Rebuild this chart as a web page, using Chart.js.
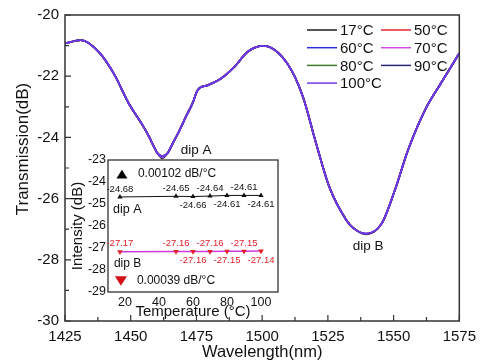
<!DOCTYPE html>
<html>
<head>
<meta charset="utf-8">
<script src="https://cdn.jsdelivr.net/npm/chart.js@4.4.0/dist/chart.umd.min.js"></script>
<style>
  html, body { margin: 0; padding: 0; background: #fff; }
  #wrap { position: relative; width: 483px; height: 362px; }
  #main { position: absolute; left: 0; top: 0; }
  #inset { position: absolute; left: 60px; top: 150px; }
</style>
</head>
<body>
<div id="wrap">
  <canvas id="main" width="483" height="362"></canvas>
  <canvas id="inset" width="230" height="178"></canvas>
</div>
<script>
// main spectrum (17 °C trace; other traces differ at the dips)
const wavelength = [1425, 1431, 1438, 1444, 1449, 1454.5, 1457, 1458.8, 1460.2, 1462, 1464, 1466, 1468, 1471, 1473.5, 1475.5, 1479.5, 1484.5, 1489.5, 1494.5, 1500.5, 1509.5, 1515.5, 1520.5, 1525.5, 1532, 1534.5, 1539.5, 1545.5, 1550.5, 1555.5, 1562, 1568, 1575];
const transmission = [-20.93, -20.82, -21.22, -21.98, -22.85, -23.6, -23.98, -24.3, -24.52, -24.68, -24.52, -24.19, -23.87, -23.32, -22.89, -22.45, -22.29, -22.07, -21.69, -21.2, -21.01, -21.58, -22.67, -24.19, -25.61, -26.7, -26.95, -27.17, -26.81, -25.72, -24.41, -23.1, -22.23, -21.25];
const dipAWavelength = 1462;
const dipBWavelength = 1539.5;

const tempLabels = ['17\u00B0C', '50\u00B0C', '60\u00B0C', '70\u00B0C', '80\u00B0C', '90\u00B0C', '100\u00B0C'];
const traceColors = ['#1c1c1c', '#e3262c', '#2b2fde', '#d04ae6', '#3e7c2c', '#26296f', '#7436ee'];

// inset: dip intensity vs temperature
const temperature = [17, 50, 60, 70, 80, 90, 100];
const dipA = [-24.68, -24.65, -24.66, -24.64, -24.61, -24.61, -24.61];
const dipB = [-27.17, -27.16, -27.16, -27.16, -27.15, -27.15, -27.14];
const labelSide = ['above', 'above', 'below', 'above', 'below', 'above', 'below'];

const mainXLabels = [1425, 1450, 1475, 1500, 1525, 1550, 1575];
const mainYLabels = [-30, -28, -26, -24, -22, -20];
const insetXTicks = [20, 40, 60, 80, 100];

const FONT = 'Liberation Sans, Arial, sans-serif';

const iA = wavelength.indexOf(dipAWavelength);
const iB = wavelength.indexOf(dipBWavelength);

// box + inward ticks
const frame = {
  id: 'frame',
  afterDatasetsDraw(chart, args, o) {
    const { ctx, chartArea: a, scales } = chart;
    ctx.save();
    ctx.strokeStyle = '#333';
    ctx.lineWidth = o.width || 1.5;
    ctx.strokeRect(a.left, a.top, a.right - a.left, a.bottom - a.top);
    if (o.ticks) {
      ctx.lineWidth = 1.2;
      ctx.beginPath();
      scales.x.ticks.forEach(t => {
        const px = scales.x.getPixelForValue(t.value);
        const len = t.label !== '' ? 6 : 4;
        ctx.moveTo(px, a.bottom);
        ctx.lineTo(px, a.bottom - len);
      });
      scales.y.ticks.forEach(t => {
        const py = scales.y.getPixelForValue(t.value);
        const len = t.label !== '' ? 6 : 4;
        ctx.moveTo(a.left, py);
        ctx.lineTo(a.left + len, py);
      });
      ctx.stroke();
    }
    ctx.restore();
  }
};

const legendBox = {
  id: 'legendBox',
  afterDraw(chart, args, o) {
    const ctx = chart.ctx;
    ctx.save();
    ctx.font = '15px ' + FONT;
    ctx.textBaseline = 'middle';
    ctx.fillStyle = '#111';
    chart.data.datasets.forEach((ds, i) => {
      const x = o.x + (i % 2) * o.colWidth;
      const y = o.y + Math.floor(i / 2) * o.rowHeight;
      ctx.strokeStyle = ds.borderColor;
      ctx.lineWidth = 1.5;
      ctx.beginPath();
      ctx.moveTo(x, y);
      ctx.lineTo(x + 30, y);
      ctx.stroke();
      ctx.fillText(ds.label, x + 33, y + 1);
    });
    ctx.restore();
  }
};

const notes = {
  id: 'notes',
  afterDraw(chart, args, o) {
    const { ctx, scales } = chart;
    ctx.save();
    ctx.textBaseline = 'middle';
    (o.items || []).forEach(n => {
      const px = scales.x.getPixelForValue(n.x);
      const py = scales.y.getPixelForValue(n.y);
      if (n.marker) {
        const s = n.size, h = s * 0.8;
        ctx.fillStyle = n.color;
        ctx.beginPath();
        if (n.marker === 'up') {
          ctx.moveTo(px, py - h / 2); ctx.lineTo(px + s / 2, py + h / 2); ctx.lineTo(px - s / 2, py + h / 2);
        } else {
          ctx.moveTo(px, py + h / 2); ctx.lineTo(px + s / 2, py - h / 2); ctx.lineTo(px - s / 2, py - h / 2);
        }
        ctx.closePath();
        ctx.fill();
      } else {
        ctx.font = n.size + 'px ' + FONT;
        ctx.fillStyle = n.color || '#111';
        ctx.textAlign = n.align || 'left';
        ctx.fillText(n.text, px, py);
      }
    });
    ctx.restore();
  }
};

const yTitle = {
  id: 'yTitle',
  afterDraw(chart, args, o) {
    const ctx = chart.ctx;
    ctx.save();
    ctx.translate(o.x, o.y);
    ctx.rotate(-Math.PI / 2);
    ctx.font = o.size + 'px ' + FONT;
    ctx.fillStyle = '#111';
    ctx.textAlign = 'center';
    ctx.textBaseline = 'middle';
    ctx.fillText(o.text, 0, 0);
    ctx.restore();
  }
};

const valueLabels = {
  id: 'valueLabels',
  afterDatasetsDraw(chart, args, o) {
    const ctx = chart.ctx;
    ctx.save();
    ctx.font = '9.5px ' + FONT;
    ctx.textAlign = 'center';
    ctx.textBaseline = 'middle';
    chart.data.datasets.forEach((ds, di) => {
      ctx.fillStyle = o.colors[di];
      chart.getDatasetMeta(di).data.forEach((pt, i) => {
        const dy = labelSide[i] === 'above' ? -8 : 9;
        ctx.fillText(ds.data[i].y.toFixed(2), pt.x, pt.y + dy);
      });
    });
    ctx.restore();
  }
};

const mainDatasets = tempLabels.map((label, i) => ({
  label: label,
  data: wavelength.map((w, k) => ({
    x: w,
    y: k === iA ? dipA[i] : (k === iB ? dipB[i] : transmission[k])
  })),
  borderColor: traceColors[i],
  borderWidth: 1.8,
  pointRadius: 0,
  cubicInterpolationMode: 'monotone',
  order: tempLabels.length - 1 - i
}));

new Chart(document.getElementById('main'), {
  type: 'line',
  data: { datasets: mainDatasets },
  options: {
    responsive: false,
    animation: false,
    layout: { padding: { top: 15, right: 18, left: 0, bottom: 0 } },
    plugins: {
      legend: { display: false },
      tooltip: { enabled: false },
      frame: { ticks: true },
      legendBox: { x: 307, y: 30, colWidth: 74, rowHeight: 17.7 },
      notes: { items: [
        { text: 'dip A', x: 1469, y: -24.41, size: 13.5 },
        { text: 'dip B', x: 1534.5, y: -27.55, size: 13.5 }
      ] },
      yTitle: { text: 'Transmission(dB)', x: 23, y: 149, size: 17 }
    },
    scales: {
      x: {
        type: 'linear', min: 1425, max: 1575,
        afterFit: s => { s.height = 41; },
        grid: { display: false, drawTicks: false },
        border: { display: false },
        ticks: {
          stepSize: 12.5, autoSkip: false, maxRotation: 0, padding: 7,
          color: '#111', font: { family: FONT, size: 15 },
          callback: v => mainXLabels.includes(v) ? String(v) : ''
        },
        title: { display: true, text: 'Wavelength(nm)', color: '#111', font: { family: FONT, size: 16.5 }, padding: { top: 0, bottom: 0 } }
      },
      y: {
        min: -30, max: -20,
        afterFit: s => { s.width = 65; },
        grid: { display: false, drawTicks: false },
        border: { display: false },
        ticks: {
          stepSize: 1, autoSkip: false, padding: 6,
          color: '#111', font: { family: FONT, size: 15 },
          callback: v => mainYLabels.includes(v) ? String(v) : ''
        }
      }
    }
  },
  plugins: [frame, legendBox, notes, yTitle]
});

new Chart(document.getElementById('inset'), {
  type: 'line',
  data: {
    datasets: [
      {
        label: 'dip A',
        data: temperature.map((t, i) => ({ x: t, y: dipA[i] })),
        borderColor: '#111', borderWidth: 1,
        pointStyle: 'triangle', pointRadius: 3,
        pointBackgroundColor: '#111', pointBorderColor: '#111', pointBorderWidth: 0
      },
      {
        label: 'dip B',
        data: temperature.map((t, i) => ({ x: t, y: dipB[i] })),
        borderColor: '#cf3ad8', borderWidth: 1.5,
        pointStyle: 'triangle', pointRotation: 180, pointRadius: 3.2,
        pointBackgroundColor: '#e3202a', pointBorderColor: '#e3202a', pointBorderWidth: 0
      }
    ]
  },
  options: {
    responsive: false,
    animation: false,
    layout: { padding: { top: 10, right: 12, left: 0, bottom: 0 } },
    plugins: {
      legend: { display: false },
      tooltip: { enabled: false },
      frame: { ticks: false, width: 1.3 },
      valueLabels: { colors: ['#111', '#e3202a'] },
      notes: { items: [
        { marker: 'up', x: 18.2, y: -23.64, size: 11, color: '#000' },
        { text: '0.00102 dB/\u00B0C', x: 27.6, y: -23.64, size: 12 },
        { text: 'dip A', x: 13, y: -25.27, size: 12.5 },
        { text: 'dip B', x: 13.5, y: -27.73, size: 12 },
        { marker: 'down', x: 17.6, y: -28.5, size: 12, color: '#d50f17' },
        { text: '0.00039 dB/\u00B0C', x: 27, y: -28.5, size: 12 }
      ] }
    },
    scales: {
      x: {
        type: 'linear', min: 10, max: 110,
        afterBuildTicks: s => { s.ticks = insetXTicks.map(v => ({ value: v })); },
        afterFit: s => { s.height = 36; },
        grid: { display: false, drawTicks: false },
        border: { display: false },
        ticks: { autoSkip: false, maxRotation: 0, padding: 3, color: '#111', font: { family: FONT, size: 12.5 } },
        title: { display: true, text: 'Temperature (\u00B0C)', color: '#111', font: { family: FONT, size: 15 }, padding: { top: 0, bottom: 7 } }
      },
      y: {
        min: -29, max: -23,
        afterFit: s => { s.width = 48; },
        grid: { display: false, drawTicks: false },
        border: { display: false },
        ticks: { stepSize: 1, autoSkip: false, padding: 2, color: '#111', font: { family: FONT, size: 12.5 } },
        title: { display: true, text: 'Intensity (dB)', color: '#111', font: { family: FONT, size: 15 }, padding: { top: 9, bottom: 0 } }
      }
    }
  },
  plugins: [frame, valueLabels, notes]
});
</script>
</body>
</html>
